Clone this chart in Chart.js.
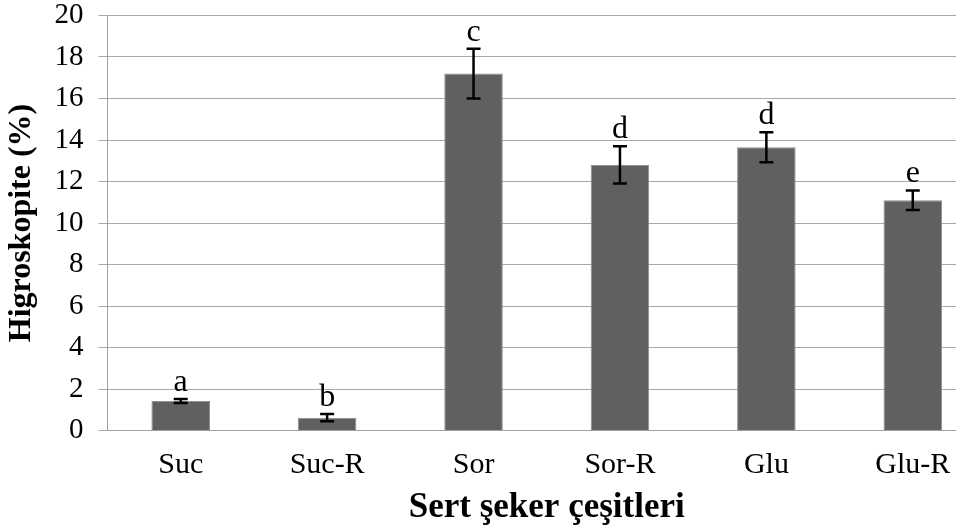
<!DOCTYPE html>
<html>
<head>
<meta charset="utf-8">
<script src="https://cdn.jsdelivr.net/npm/chart.js@4/dist/chart.umd.min.js"></script>
<style>
  html, body { margin: 0; padding: 0; background: #fff; overflow: hidden; }
  #wrap { width: 990px; height: 529px; }
</style>
</head>
<body>
<div id="wrap"><canvas id="c" width="990" height="529"></canvas></div>
<script>
// Hygroscopicity of hard candy types, mean ± error, with significance letters
const categories = ['Suc', 'Suc-R', 'Sor', 'Sor-R', 'Glu', 'Glu-R'];
const values = [1.42, 0.62, 17.2, 12.8, 13.65, 11.1];
const errors = [0.1, 0.18, 1.2, 0.9, 0.72, 0.47];
const letters = ['a', 'b', 'c', 'd', 'd', 'e'];
const yTicks = [0, 2, 4, 6, 8, 10, 12, 14, 16, 18, 20];

const SERIF = '"Liberation Serif", "Times New Roman", serif';

// Error bars and group letters drawn on top of the bars
const errorBarPlugin = {
  id: 'errorBars',
  afterDatasetsDraw(chart) {
    const { ctx } = chart;
    const meta = chart.getDatasetMeta(0);
    const y = chart.scales.y;
    ctx.save();
    ctx.strokeStyle = '#000';
    ctx.lineWidth = 2.5;
    meta.data.forEach((bar, i) => {
      const x = bar.x;
      const top = y.getPixelForValue(values[i] + errors[i]);
      const bot = y.getPixelForValue(values[i] - errors[i]);
      const cap = 7;
      ctx.beginPath();
      ctx.moveTo(x, top); ctx.lineTo(x, bot);
      ctx.moveTo(x - cap, top); ctx.lineTo(x + cap, top);
      ctx.moveTo(x - cap, bot); ctx.lineTo(x + cap, bot);
      ctx.stroke();
      ctx.fillStyle = '#000';
      ctx.font = '32px ' + SERIF;
      ctx.textAlign = 'center';
      ctx.textBaseline = 'alphabetic';
      ctx.fillText(letters[i], x, top - 8);
    });
    ctx.restore();
  }
};

new Chart(document.getElementById('c'), {
  type: 'bar',
  data: {
    labels: categories,
    datasets: [{
      data: values,
      backgroundColor: '#606060',
      borderColor: '#8f8f8f',
      borderWidth: 1,
      categoryPercentage: 1.0,
      barPercentage: 0.4
    }]
  },
  options: {
    responsive: false,
    animation: false,
    devicePixelRatio: 1,
    layout: { padding: { top: 15.5, right: 4, bottom: 0, left: 0 } },
    plugins: {
      legend: { display: false },
      tooltip: { enabled: false }
    },
    scales: {
      x: {
        grid: { display: false, drawTicks: false },
        border: { display: true, color: '#a0a0a0', width: 1 },
        ticks: {
          color: '#000',
          padding: 17,
          font: { family: SERIF, size: 30, lineHeight: 1.2 }
        },
        title: {
          display: true,
          text: 'Sert şeker çeşitleri',
          color: '#000',
          padding: { top: 0, bottom: 0 },
          font: { family: SERIF, size: 35, weight: 'bold', lineHeight: 1.2 }
        },
        afterFit(scale) { scale.height = 98.5; }
      },
      y: {
        min: 0,
        max: 20,
        afterBuildTicks(scale) { scale.ticks = yTicks.map(v => ({ value: v })); },
        grid: { color: '#a8a8a8', lineWidth: 1, tickLength: 9, drawTicks: true },
        border: { display: true, color: '#a0a0a0', width: 1 },
        ticks: {
          color: '#000',
          padding: 15,
          font: { family: SERIF, size: 29, lineHeight: 1.0 }
        },
        title: {
          display: true,
          text: 'Higroskopite (%)',
          color: '#000',
          padding: { top: 3, bottom: 0 },
          font: { family: SERIF, size: 32, weight: 'bold', lineHeight: 1.2 }
        },
        afterFit(scale) {
          scale.width = 107.5;
          scale.paddingTop = 0;
          scale.paddingBottom = 0;
        }
      }
    }
  },
  plugins: [errorBarPlugin]
});
</script>
</body>
</html>
